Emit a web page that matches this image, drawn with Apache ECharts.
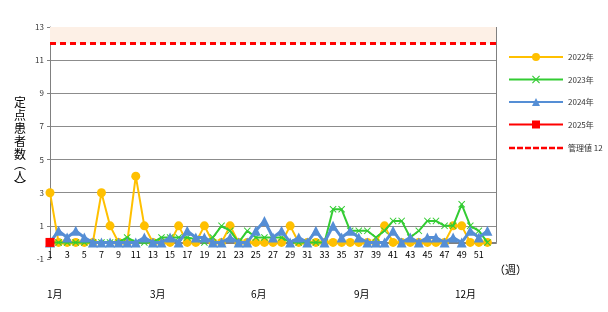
<!DOCTYPE html>
<html><head><meta charset="utf-8">
<script src="https://cdn.jsdelivr.net/npm/echarts@6/dist/echarts.min.js"></script>
<style>html,body{margin:0;padding:0;background:#fff}#c{width:608px;height:312px}</style>
</head><body><div id="c"></div>
<script>
var weeks = ['1','2','3','4','5','6','7','8','9','10','11','12','13','14','15','16','17','18','19','20','21','22','23','24','25','26','27','28','29','30','31','32','33','34','35','36','37','38','39','40','41','42','43','44','45','46','47','48','49','50','51','52','53'];
var d2022 = [3,0,0,0,0,0,3,1,0,0,4,1,0,0,0,1,0,0,1,0,0,1,0,0,0,0,0,0,1,0,0,0,0,0,0,0,0,0,0,1,0,0,0,0,0,0,0,1,1,0,0,0];
var d2023 = [0,0,0,0,0,0,0,0,0,0.3,0,0,0,0.3,0.3,0.3,0.3,0.2,0,0.3,1,0.7,0,0.7,0.3,0.3,0.3,0.3,0,0,0,0,0,2,2,0.7,0.7,0.7,0.3,0.7,1.3,1.3,0.3,0.7,1.3,1.3,1,1,2.3,1,0.7,0];
var d2024 = [0,0.7,0.3,0.7,0.3,0,0,0,0,0,0,0.3,0,0,0.3,0,0.7,0.3,0.3,0,0,0.3,0,0,0.7,1.3,0.3,0.7,0,0.3,0,0.7,0,1,0.3,0.7,0.3,0,0,0,0.7,0,0.3,0,0.3,0.3,0,0.3,0,0.7,0.3,0.7];
var d2025 = [0];
var seriesNames = ['2022年','2023年','2024年','2025年','管理値 12'];
var limitValue = 12;
var monthLabels = ['1月','3月','6月','9月','12月'];
var yTitleChars = ['定','点','患','者','数','︵','人','︶'];
var xUnit = '（週）';

var monthX = [47,150,251,354,455];
var titleTops = [96,109,122,135,148,158,170,180];
var FONT = '"Noto Sans CJK JP", "Noto Sans", sans-serif';
var cross = 'path://M1,0L5,4L9,0L10,1L6,5L10,9L9,10L5,6L1,10L0,9L4,5L0,1Z';
var dashIcon = 'path://M0,0L0.01,0L0,0.01Z M54,10L53.99,10L54,9.99Z' +
  'M0,3.8H6V6.2H0Z M8,3.8H14V6.2H8Z M16,3.8H22V6.2H16Z M24,3.8H30V6.2H24Z M32,3.8H38V6.2H32Z M40,3.8H46V6.2H40Z M48,3.8H54V6.2H48Z';

var graphics = monthLabels.map(function(t,i){
  return {type:'text', left: monthX[i], top: 289, style:{text:t, font:'10px '+FONT, fill:'#000'}};
});
graphics.push({type:'text', left: 494, top: 264, style:{text:xUnit, font:'11px '+FONT, fill:'#000'}});
yTitleChars.forEach(function(ch,i){
  graphics.push({type:'text', left: 14, top: titleTops[i], style:{text: ch, font:'12px '+FONT, fill:'#000'}});
});

var chart = echarts.init(document.getElementById('c'));
chart.setOption({
  animation:false,
  textStyle:{fontFamily:FONT},
  grid:{left:50,right:112,top:27,bottom:53},
  legend:{
    orient:'vertical', left:508, top:53, padding:0, itemWidth:54, itemHeight:10, itemGap:14.5,
    textStyle:{fontSize:8, color:'#333', fontFamily:FONT},
    data:[seriesNames[0],seriesNames[1],seriesNames[2],seriesNames[3],{name:seriesNames[4], icon:dashIcon, itemStyle:{color:'#FF0000'}}]
  },
  xAxis:{
    type:'category', data:weeks, boundaryGap:false,
    axisLine:{onZero:true, lineStyle:{color:'#808080', width:2}},
    axisTick:{show:false},
    axisLabel:{interval:1, fontSize:9, color:'#000', margin:-9, formatter:function(v){return (+v>52)?'':v;}},
    splitLine:{show:false}
  },
  yAxis:{
    type:'value', min:-1, max:13, interval:2,
    axisLine:{show:true, lineStyle:{color:'#808080', width:1}},
    axisTick:{show:true, length:3, lineStyle:{color:'#808080'}},
    axisLabel:{fontSize:8, color:'#333', margin:6},
    splitLine:{show:true, lineStyle:{color:['rgba(0,0,0,0)','#8c8c8c','#8c8c8c','#8c8c8c','#8c8c8c','#8c8c8c','#8c8c8c','#8c8c8c'], width:1}}
  },
  graphic:graphics,
  series:[
    {name:seriesNames[0], type:'line', data:d2022, symbol:'circle', symbolSize:9, showAllSymbol:true,
     itemStyle:{color:'#FFC000'}, lineStyle:{color:'#FFC000', width:2}, z:2,
     markArea:{silent:true, itemStyle:{color:'#FDF0E6'}, data:[[{yAxis:limitValue},{yAxis:13}]]}},
    {name:seriesNames[1], type:'line', data:d2023, symbol:cross, symbolSize:7, showAllSymbol:true,
     itemStyle:{color:'#33CC33'}, lineStyle:{color:'#33CC33', width:2}, z:3},
    {name:seriesNames[2], type:'line', data:d2024, symbol:'triangle', symbolSize:10, showAllSymbol:true,
     itemStyle:{color:'#558ED5'}, lineStyle:{color:'#558ED5', width:3}, z:4},
    {name:seriesNames[3], type:'line', data:d2025, symbol:'rect', symbolSize:9, showAllSymbol:true,
     itemStyle:{color:'#FF0000'}, lineStyle:{color:'#FF0000', width:2}, z:5},
    {name:seriesNames[4], type:'line', data:[], symbol:'none',
     itemStyle:{color:'#FF0000'}, lineStyle:{color:'#FF0000', width:3, type:[6,4]},
     markLine:{silent:true, symbol:'none', label:{show:false},
       lineStyle:{color:'#FF0000', width:3, type:[6,4]},
       data:[{yAxis:limitValue},
             [{coord:['53',13], lineStyle:{color:'#808080', width:1, type:'solid'}},{coord:['53',0], lineStyle:{color:'#808080', width:1, type:'solid'}}]]}}
  ]
});
</script></body></html>
